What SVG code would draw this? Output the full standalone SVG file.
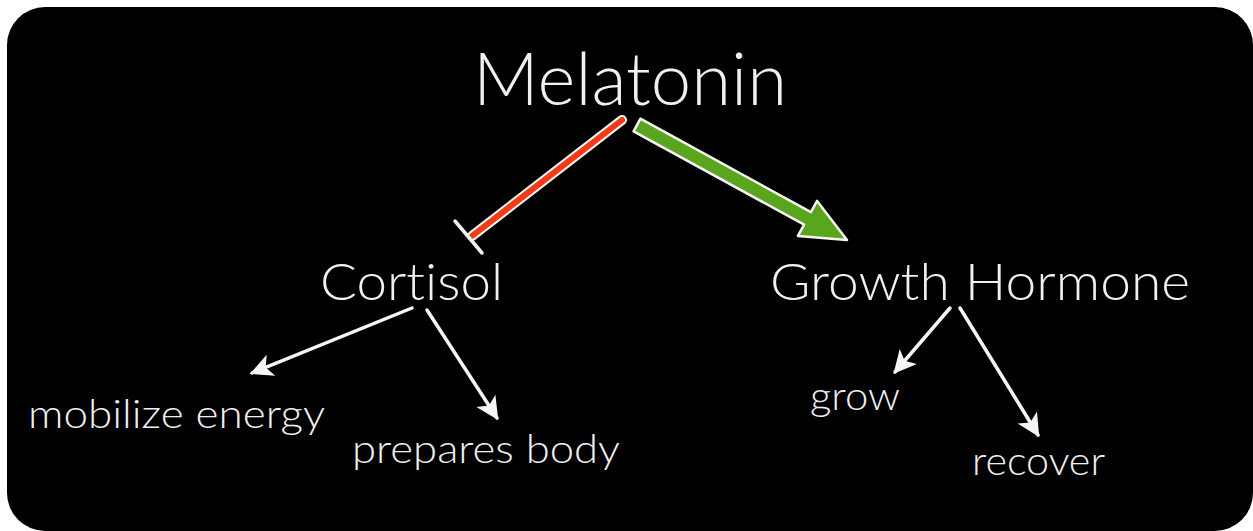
<svg xmlns="http://www.w3.org/2000/svg" width="1253" height="531" viewBox="0 0 1253 531">
  <defs>
    <style>
      .lbl { font-family: Lato, "Open Sans", "Liberation Sans", sans-serif; font-weight: 300; fill: #f0f0f0; font-variant-ligatures: none; font-feature-settings: "liga" 0; }
      .big { font-size: 72px; }
      .mid { font-size: 51px; }
      .small { font-size: 39px; }
      .wline { stroke: #f5f5f5; stroke-width: 3.5; fill: none; stroke-linecap: round; }
    </style>
    <marker id="wArrow" viewBox="0 0 10 10" refX="9" refY="5" markerWidth="7.5" markerHeight="6.5" markerUnits="strokeWidth" orient="auto">
      <path d="M0,0 L10,5 L0,10 L2.5,5 Z" fill="#f5f5f5"/>
    </marker>
  </defs>
  <rect x="0" y="0" width="1253" height="531" fill="#ffffff"/>
  <rect x="7" y="7" width="1246" height="524" rx="38" ry="38" fill="#000000"/>

  <g id="melatonin"><text class="lbl big" x="473" y="105" textLength="314" lengthAdjust="spacingAndGlyphs">Melatonin</text></g>
  <g id="cortisol"><text class="lbl mid" x="320" y="300" textLength="183" lengthAdjust="spacingAndGlyphs">Cortisol</text></g>
  <g id="growth-hormone"><text class="lbl mid" x="770" y="300" textLength="420" lengthAdjust="spacingAndGlyphs">Growth Hormone</text></g>
  <g id="mobilize-energy"><text class="lbl small" x="28" y="428" textLength="297" lengthAdjust="spacingAndGlyphs">mobilize energy</text></g>
  <g id="prepares-body"><text class="lbl small" x="352" y="463" textLength="268" lengthAdjust="spacingAndGlyphs">prepares body</text></g>
  <g id="grow"><text class="lbl small" x="810" y="410" textLength="90" lengthAdjust="spacingAndGlyphs">grow</text></g>
  <g id="recover"><text class="lbl small" x="972" y="475" textLength="133" lengthAdjust="spacingAndGlyphs">recover</text></g>

  <g id="connectors">
    <!-- inhibition: Melatonin -| Cortisol -->
    <line x1="622" y1="120" x2="472" y2="236" stroke="#f5f5f5" stroke-width="10" stroke-linecap="round"/>
    <line x1="622" y1="120" x2="472" y2="236" stroke="#f23a16" stroke-width="6" stroke-linecap="round"/>
    <line x1="455" y1="221" x2="482" y2="253" stroke="#f0f0f0" stroke-width="3.5" stroke-linecap="round"/>
    <!-- activation: Melatonin -> Growth Hormone -->
    <polygon points="640.4,118.7 810.9,212.1 817.1,200.9 847,240 797.9,235.9 804.1,224.7 633.6,131.3" fill="#5aa51e" stroke="#f5f5f5" stroke-width="2.5" stroke-linejoin="round"/>
    <!-- Cortisol children -->
    <line class="wline" x1="412" y1="308" x2="252" y2="373" marker-end="url(#wArrow)"/>
    <line class="wline" x1="427" y1="310" x2="497" y2="418" marker-end="url(#wArrow)"/>
    <!-- Growth Hormone children -->
    <line class="wline" x1="950" y1="308" x2="895" y2="372" marker-end="url(#wArrow)"/>
    <line class="wline" x1="960" y1="308" x2="1038" y2="435" marker-end="url(#wArrow)"/>
  </g>
</svg>
